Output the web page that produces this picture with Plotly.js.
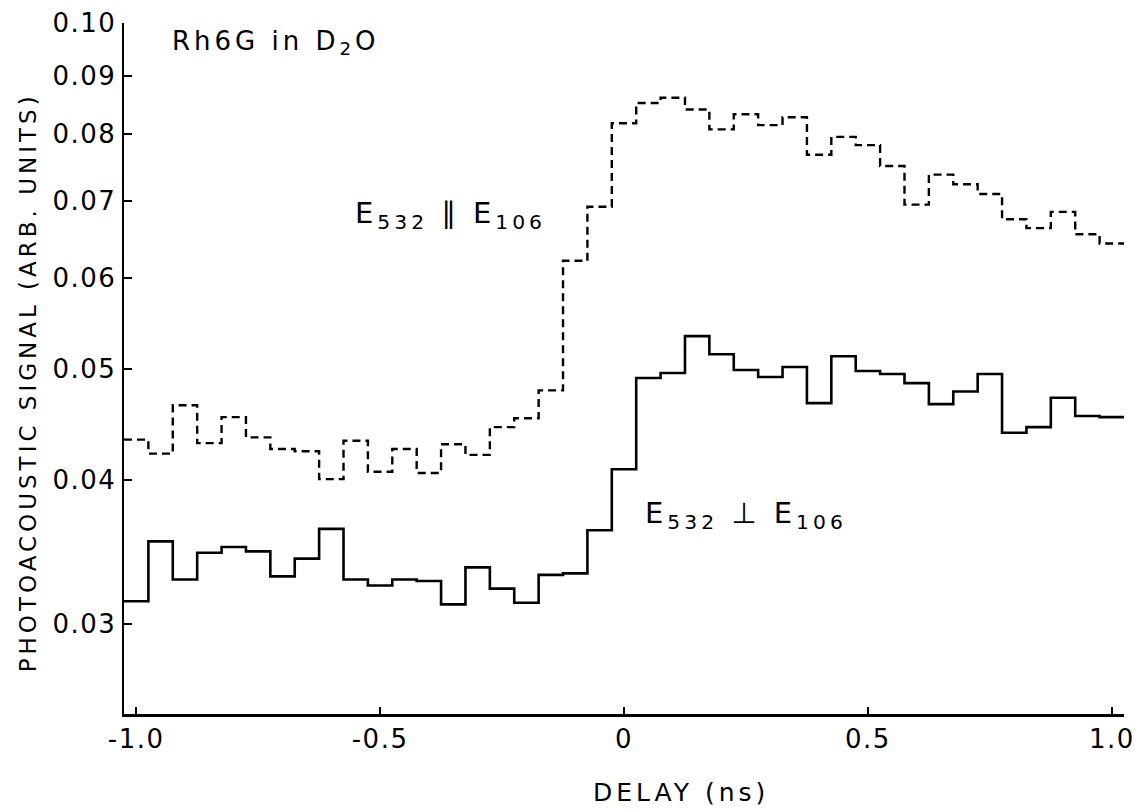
<!DOCTYPE html>
<html>
<head>
<meta charset="utf-8">
<script src="https://cdn.plot.ly/plotly-3.0.1.min.js"></script>
<style>
  html, body { margin: 0; padding: 0; background: #fff; }
  #chart { width: 1144px; height: 810px; }
  .xtick text, .ytick text { letter-spacing: 1.5px; }
  .annotation-text { letter-spacing: 4px; }
</style>
</head>
<body>
<div id="chart"></div>
<script>
// Delay (ns), bin centres
const delay = [-1.00, -0.95, -0.90, -0.85, -0.80, -0.75, -0.70, -0.65, -0.60, -0.55,
               -0.50, -0.45, -0.40, -0.35, -0.30, -0.25, -0.20, -0.15, -0.10, -0.05,
                0.00,  0.05,  0.10,  0.15,  0.20,  0.25,  0.30,  0.35,  0.40,  0.45,
                0.50,  0.55,  0.60,  0.65,  0.70,  0.75,  0.80,  0.85,  0.90,  0.95, 1.00];

// E532 || E106 (dashed)
const parallelSignal = [0.0434, 0.0422, 0.0465, 0.0431, 0.0454, 0.0436, 0.0426, 0.0424, 0.0401, 0.0433,
                        0.0407, 0.0426, 0.0406, 0.0430, 0.0421, 0.0445, 0.0453, 0.0479, 0.0621, 0.0692,
                        0.0818, 0.0852, 0.0861, 0.0841, 0.0808, 0.0833, 0.0815, 0.0828, 0.0768, 0.0796,
                        0.0783, 0.0751, 0.0695, 0.0738, 0.0724, 0.0710, 0.0675, 0.0663, 0.0685, 0.0655, 0.0643];

// E532 ⊥ E106 (solid)
const perpSignal = [0.0314, 0.0354, 0.0328, 0.0346, 0.0350, 0.0347, 0.0330, 0.0342, 0.0363, 0.0328,
                    0.0324, 0.0328, 0.0327, 0.0312, 0.0336, 0.0322, 0.0313, 0.0331, 0.0332, 0.0362,
                    0.0409, 0.0491, 0.0496, 0.0534, 0.0515, 0.0499, 0.0492, 0.0502, 0.0467, 0.0513,
                    0.0498, 0.0495, 0.0486, 0.0466, 0.0478, 0.0495, 0.0440, 0.0445, 0.0472, 0.0455, 0.0454];

const xTickVals = [-1.0, -0.5, 0, 0.5, 1.0];
const xTickText = ["-1.0", "-0.5", "0", "0.5", "1.0"];
const yTickVals = [0.03, 0.04, 0.05, 0.06, 0.07, 0.08, 0.09, 0.10];
const yTickText = ["0.03", "0.04", "0.05", "0.06", "0.07", "0.08", "0.09", "0.10"];

const xTitle = "DELAY (ns)";
const yTitle = "PHOTOACOUSTIC SIGNAL (ARB. UNITS)";

// Build step (histogram-style) outlines: each value spans its bin
const halfBin = (delay[1] - delay[0]) / 2;
function stepX(centres) {
  const xs = centres.map(c => c - halfBin);
  xs.push(centres[centres.length - 1] + halfBin);
  return xs;
}
function stepY(vals) {
  const ys = vals.slice();
  ys.push(vals[vals.length - 1]);
  return ys;
}

const FONT = "DejaVu Sans, sans-serif";

const traces = [
  {
    x: stepX(delay), y: stepY(parallelSignal),
    type: "scatter", mode: "lines",
    line: { shape: "hv", color: "#000", width: 2.4, dash: "8px,5px" },
    name: "E532 || E106", hoverinfo: "skip"
  },
  {
    x: stepX(delay), y: stepY(perpSignal),
    type: "scatter", mode: "lines",
    line: { shape: "hv", color: "#000", width: 2.6 },
    name: "E532 ⊥ E106", hoverinfo: "skip"
  }
];

const layout = {
  width: 1144, height: 810,
  margin: { l: 124, r: 20, t: 23, b: 96 },
  paper_bgcolor: "#fff", plot_bgcolor: "#fff",
  showlegend: false,
  font: { family: FONT, color: "#000", size: 25 },
  xaxis: {
    range: [-1.025, 1.025],
    tickvals: xTickVals, ticktext: xTickText,
    ticks: "inside", ticklen: 7, tickwidth: 2, tickcolor: "#000",
    showline: true, linecolor: "#000", linewidth: 2.5,
    showgrid: false, zeroline: false, mirror: false,
    tickfont: { family: FONT, size: 26, color: "#000" }
  },
  yaxis: {
    type: "log",
    range: [-1.6012, -1.0],
    tickvals: yTickVals, ticktext: yTickText,
    ticks: "inside", ticklen: 8, tickwidth: 2, tickcolor: "#000",
    showline: true, linecolor: "#000", linewidth: 2.5,
    showgrid: false, zeroline: false, mirror: false,
    tickfont: { family: FONT, size: 26, color: "#000" }
  },
  annotations: [
    {
      text: xTitle,
      xref: "paper", yref: "paper", x: 0.557, y: -0.113,
      xanchor: "center", yanchor: "middle", showarrow: false,
      font: { family: FONT, size: 25, color: "#000" }
    },
    {
      text: yTitle, textangle: -90,
      xref: "paper", yref: "paper", x: -0.096, y: 0.480,
      xanchor: "center", yanchor: "middle", showarrow: false,
      font: { family: FONT, size: 23, color: "#000" }
    },
    {
      text: "Rh6G in D<sub>2</sub>O",
      xref: "paper", yref: "paper", x: 0.046, y: 0.972,
      xanchor: "left", yanchor: "middle", showarrow: false,
      font: { family: FONT, size: 26, color: "#000" }
    },
    {
      text: "E<sub>532</sub> ∥ E<sub>106</sub>",
      xref: "paper", yref: "paper", x: 0.229, y: 0.722,
      xanchor: "left", yanchor: "middle", showarrow: false,
      font: { family: FONT, size: 29, color: "#000" }
    },
    {
      text: "E<sub>532</sub> ⊥ E<sub>106</sub>",
      xref: "paper", yref: "paper", x: 0.519, y: 0.288,
      xanchor: "left", yanchor: "middle", showarrow: false,
      font: { family: FONT, size: 29, color: "#000" }
    }
  ]
};

Plotly.newPlot("chart", traces, layout, { staticPlot: true, displayModeBar: false });
</script>
</body>
</html>
